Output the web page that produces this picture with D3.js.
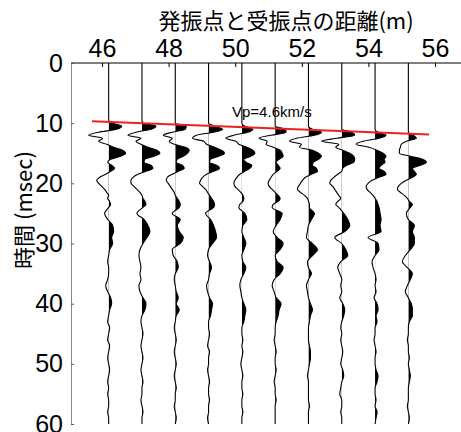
<!DOCTYPE html>
<html>
<head>
<meta charset="utf-8">
<script src="https://cdn.jsdelivr.net/npm/d3@7"></script>
<style>
  body { margin: 0; background: #fff; }
  svg { display: block; }
</style>
</head>
<body>
<svg></svg>
<script>
// size of the svg
var width = 461;
var height = 432;

// time samples (msec) shared by all traces
const times = [0,
  9, 9.5, 10, 10.5, 11, 11.5, 12, 12.5, 13, 13.5,
  14, 14.5, 15, 15.5, 16, 16.5, 17, 17.5, 18, 18.5,
  19, 19.5, 20, 20.5, 21, 21.5, 22, 22.5, 23, 23.5,
  24,
  25, 26, 27, 28, 29, 30, 31, 32, 33, 34,
  35, 36, 37, 38, 39, 40, 41, 42, 43, 44,
  45, 46, 47, 48, 49, 50, 51, 52, 53, 54,
  55, 56, 57, 58, 59, 60];

// trace positions (m)
const offsets = [46.2, 47.2, 48.2, 49.2, 50.2, 51.2, 52.2, 53.2, 54.2, 55.2];

// trace amplitudes, one list per trace
const tr0 = [0,
  0, 0, 4, 13, 8, -10, -20, -6, -10, -2,
  5, 14, 17, 12, 2, -1, 3, 6, 2, -3,
  -9, -12, -10, -7, -4, -2, 0, -1, 1, 2,
  0,
  -4, -1, 4, 5, 3, 4, 1, 0, -1, 0,
  0, -1, -3, -1, 2, 3, 1, 0, -1, 1,
  0, -1, 1, 0, -1, 0, 1, 0, -1, 0,
  -1, 0, 0, -1, 0, 0];
const tr1 = [0,
  0, 0, 1, 14, 9, -6, -14, -1, -6, -1,
  6, 15, 18, 12, 3, 2, 9, 11, 4, -4,
  -9, -11, -11, -8, -5, -2, 0, 1, 3, 4,
  1,
  -5, 2, 6, 8, 5, 1, -2, -3, -2, -1,
  -2, -1, -3, -2, 1, 4, 3, 0, -1, 0,
  1, 0, -1, 0, 1, 0, -1, 0, 1, 0,
  0, -1, 0, 1, 0, 0];
const tr2 = [0,
  0, 0, 0, 11, 10, -3, -12, -3, -6, -1,
  10, 14, 12, 8, 2, 1, 7, 9, 3, -3,
  -8, -9, -7, -5, -3, -1, 0, 2, 4, 5,
  4,
  -3, 5, 2, 4, 8, 5, -3, -2, 2, 3,
  0, -1, 0, 1, 3, 1, 4, 1, 0, -1,
  0, 1, 0, -1, 0, 1, 0, -1, 0, 1,
  0, 0, -1, 0, 1, 0];
const tr3 = [0,
  0, 0, 0, 6, 14, 5, -12, -16, -5, -2,
  6, 13, 16, 10, 2, 1, 8, 11, 5, -2,
  -6, -8, -9, -6, -3, -1, 1, 3, 5, 6,
  5,
  -3, 2, 5, 7, 8, 4, 0, -1, 1, 3,
  1, 0, -2, -1, 1, 4, 3, 2, 0, 0,
  1, 0, -1, 1, 0, 0, -1, 0, 1, 0,
  0, 1, 0, 0, -1, 0];
const tr4 = [0,
  0, 0, 0, 3, 11, 6, -8, -16, -6, -3,
  5, 11, 13, 9, 2, 4, 10, 8, 3, -2,
  -5, -7, -8, -7, -4, -1, 1, 2, 1, -2,
  -3,
  3, 5, 1, 0, 2, 4, 2, 0, 1, 4,
  2, -1, -2, -1, 0, 2, 4, 3, 2, 0,
  0, 1, 0, 1, 0, -1, 0, 1, 0, 0,
  1, 0, 0, 1, 0, 0];
const tr5 = [0,
  0, 0, 0, 0, 10, 11, -4, -16, -8, -9,
  -2, 5, 7, 8, 4, 1, 3, 5, 2, -2,
  -4, -6, -7, -6, -3, 0, 3, 5, 3, -2,
  -3,
  7, 5, 1, -2, 2, 8, 5, 0, 2, 8,
  5, -1, -3, -1, 1, 6, 4, 3, 1, 0,
  0, -1, 0, 1, 0, 0, 1, 0, -1, 0,
  0, 1, 0, 0, 0, 0];
const tr6 = [0,
  0, 0, 0, 0, 4, 13, 6, -12, -19, -7,
  -9, 4, 10, 13, 10, 5, 4, 8, 9, 3,
  -3, -6, -8, -10, -11, -8, -4, -1, 0, 1,
  1,
  6, 3, 0, -1, -2, 4, 9, 4, -1, 0,
  3, 0, -2, -1, 0, 2, 4, 2, 1, 0,
  0, 0, 1, 2, 2, 1, 0, -1, 0, 0,
  0, 0, 1, 0, 0, 0];
const tr7 = [0,
  0, 0, 0, 0, 0, 10, 13, -5, -20, -3,
  -6, 1, 8, 12, 13, 12, 5, 1, 0, -4,
  -8, -11, -12, -9, -7, -5, -3, -1, -4, -6,
  -3,
  2, 6, 8, 3, -7, 0, 4, 6, -1, -4,
  -2, 0, -1, 0, -2, 1, 3, 2, 0, -1,
  0, -1, 0, 1, 0, -1, 1, 2, 0, -1,
  -2, 0, 0, -1, 0, 0];
const tr8 = [0,
  0, 0, 0, 0, 0, 3, 11, 4, -12, -19,
  -6, 2, 8, 11, 9, 10, 6, 4, 9, 11,
  4, -3, -7, -9, -8, -5, -2, 0, 2, 3,
  4,
  5, 6, 5, 6, -7, 3, 4, 0, -3, -2,
  0, 1, 0, 1, -1, 2, 3, 1, 2, 0,
  0, -1, 0, 1, 0, 0, 1, 3, 2, 0,
  0, 1, 0, 2, 1, 0];
const tr9 = [0,
  0, 0, 0, 0, 0, 0, 5, 8, -2, -7,
  -8, -9, -9, 2, 14, 18, 12, 4, 6, 8,
  4, -2, -7, -10, -11, -8, -4, -1, 1, 4,
  2,
  -2, 0, 6, 4, 6, 6, 2, -3, -6, -1,
  4, 2, -1, -3, 0, 3, 4, 4, 1, 0,
  0, -1, 0, 0, 1, 0, 1, 2, 1, 0,
  0, 0, -1, 0, 1, 0];
const traces = [tr0, tr1, tr2, tr3, tr4, tr5, tr6, tr7, tr8, tr9];

// first-arrival line (m, msec) and its label
const vpLine = [[45.7, 9.7], [55.82, 11.9]];
const vpLabel = "Vp=4.6km/s";

const xTicks = [46, 48, 50, 52, 54, 56];
const yTicks = [0, 10, 20, 30, 40, 50, 60];

var svg = d3.select("svg").attr("width", width).attr("height", height);

// scales
let xScale = d3.scaleLinear().domain([46, 56]).range([102, 435]);
let yScale = d3.scaleLinear().domain([0, 60]).range([63, 424]);
// amplitude units are drawn as pixels to the right of the trace
let ampScale = d3.scaleLinear().domain([0, 10]).range([0, 10]);

const numFont = "'Liberation Sans', Arial, sans-serif";
const jpFont = "'Noto Sans CJK JP', sans-serif";

// top axis
svg.append("line")
    .attr("x1", 71).attr("x2", width)
    .attr("y1", yScale(0)).attr("y2", yScale(0))
    .attr("stroke", "#000").attr("stroke-width", 1);

let xAxis = d3.axisTop(xScale).tickValues(xTicks).tickSize(-4).tickPadding(6).tickSizeOuter(0);
let gx = svg.append("g").attr("transform", "translate(0," + yScale(0) + ")").call(xAxis);
gx.select(".domain").remove();
gx.selectAll("text").style("font-size", "25px").style("font-family", numFont).attr("fill", "#000");

// left axis
let yAxis = d3.axisLeft(yScale).tickValues(yTicks).tickSize(-3).tickPadding(8).tickSizeOuter(0);
let gy = svg.append("g").attr("transform", "translate(71,0)").call(yAxis);
gy.select(".domain").attr("stroke", "#888");
gy.selectAll(".tick line").attr("stroke", "#555");
gy.selectAll("text").style("font-size", "25px").style("font-family", numFont).attr("fill", "#000");

// titles
svg.append("text")
    .attr("x", 286).attr("y", 29)
    .attr("text-anchor", "middle")
    .style("font-size", "22px").style("font-family", jpFont)
    .text("発振点と受振点の距離(m)");

svg.append("text")
    .attr("text-anchor", "middle")
    .attr("transform", "translate(32,210) rotate(-90)")
    .style("font-size", "22px").style("font-family", jpFont)
    .text("時間 (msec)");

// traces
let defs = svg.append("defs");
traces.forEach((vals, i) => {
    let base = xScale(offsets[i]);
    let pts = times.map((t, j) => ({t: t, v: vals[j]}));

    // only the positive side of each wiggle is filled
    defs.append("clipPath").attr("id", "pos" + i)
        .append("rect")
        .attr("x", base).attr("y", yScale(0))
        .attr("width", 60).attr("height", yScale(60) - yScale(0));

    let area = d3.area()
        .curve(d3.curveMonotoneY)
        .y((d) => yScale(d.t))
        .x0(base)
        .x1((d) => base + ampScale(d.v));

    let line = d3.line()
        .curve(d3.curveMonotoneY)
        .y((d) => yScale(d.t))
        .x((d) => base + ampScale(d.v));

    svg.append("path")
        .datum(pts)
        .attr("clip-path", "url(#pos" + i + ")")
        .attr("fill", "#000")
        .attr("d", area);

    svg.append("path")
        .datum(pts)
        .attr("fill", "none")
        .attr("stroke", "#000")
        .attr("stroke-width", 1.1)
        .attr("d", line);
});

// first-arrival line
svg.append("line")
    .attr("x1", xScale(vpLine[0][0])).attr("y1", yScale(vpLine[0][1]))
    .attr("x2", xScale(vpLine[1][0])).attr("y2", yScale(vpLine[1][1]))
    .attr("stroke", "#f02020").attr("stroke-width", 2);

svg.append("text")
    .attr("x", xScale(51.1)).attr("y", yScale(9.0))
    .attr("text-anchor", "middle")
    .style("font-size", "15px").style("font-family", numFont)
    .text(vpLabel);
</script>
</body>
</html>
